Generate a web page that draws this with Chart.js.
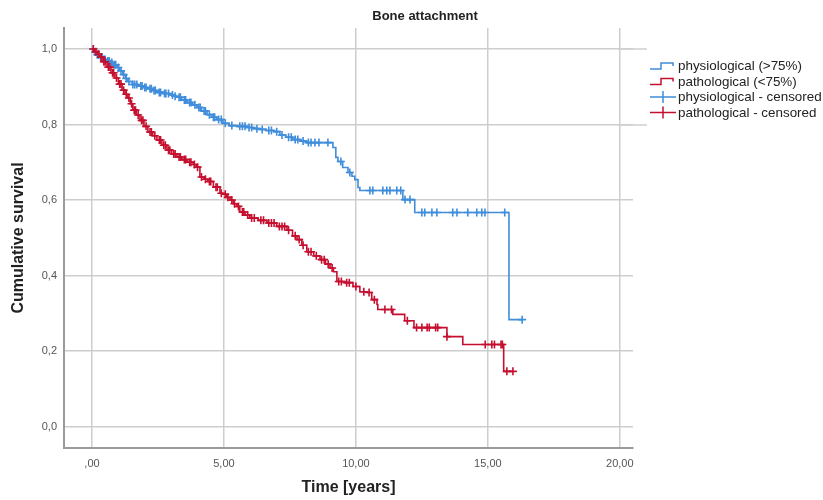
<!DOCTYPE html>
<html><head><meta charset="utf-8">
<script src="https://cdn.jsdelivr.net/npm/chart.js@4/dist/chart.umd.min.js"></script>
<style>html,body{margin:0;padding:0;background:#fff}</style>
</head><body>
<canvas id="c" width="823" height="500"></canvas>
<script>
// ---- data ----
const chartTitle = 'Bone attachment';
const xTitle = 'Time [years]';
const yTitle = 'Cumulative survival';
const seriesNames = ['physiological (>75%)', 'pathological (<75%)', 'physiological - censored', 'pathological - censored'];

const xTickValues = [0, 5, 10, 15, 20];
const xTickLabels = [',00', '5,00', '10,00', '15,00', '20,00'];
const yTickValues = [0, 0.2, 0.4, 0.6, 0.8, 1.0];
const yTickLabels = ['0,0', '0,2', '0,4', '0,6', '0,8', '1,0'];

// physiological (>75%): event times and survival after each step
const blueTimes = [0, 0.1, 0.18, 0.3, 0.42, 0.55, 0.68, 0.8, 0.95, 1.05, 1.17, 1.27, 1.36, 1.52, 1.75, 1.95, 2.12, 2.3, 2.46, 2.7, 2.95, 3.1, 3.22, 3.4, 3.6, 3.8, 3.98, 4.15, 4.36, 4.55, 4.73, 4.96, 5.2, 5.5, 5.87, 6.1, 6.36, 6.6, 6.9, 7.12, 7.35, 7.61, 7.9, 8.14, 9.13, 9.24, 9.32, 9.5, 9.7, 9.85, 9.96, 10.08, 10.15, 11.78, 12.23, 15.8];
const blueSurv = [1.0, 0.992, 0.985, 0.978, 0.972, 0.968, 0.964, 0.958, 0.951, 0.942, 0.932, 0.922, 0.914, 0.906, 0.902, 0.898, 0.895, 0.890, 0.885, 0.882, 0.878, 0.875, 0.872, 0.865, 0.858, 0.852, 0.845, 0.836, 0.826, 0.819, 0.813, 0.803, 0.797, 0.795, 0.792, 0.789, 0.787, 0.784, 0.781, 0.772, 0.766, 0.760, 0.756, 0.752, 0.739, 0.713, 0.702, 0.686, 0.673, 0.663, 0.654, 0.633, 0.625, 0.601, 0.567, 0.283];
const blueCensor = [0.05, 0.12, 0.2, 0.25, 0.33, 0.38, 0.45, 0.5, 0.6, 0.65, 0.75, 0.85, 0.9, 1.0, 1.1, 1.2, 1.3, 1.4, 1.55, 1.62, 1.7, 1.85, 1.9, 2.0, 2.05, 2.2, 2.25, 2.35, 2.4, 2.55, 2.6, 2.75, 2.8, 2.9, 3.05, 3.15, 3.3, 3.35, 3.5, 3.55, 3.7, 3.75, 3.9, 4.05, 4.1, 4.25, 4.3, 4.45, 4.6, 4.65, 4.8, 4.9, 5.05, 5.3, 5.6, 5.7, 5.8, 5.95, 6.05, 6.25, 6.45, 6.7, 6.8, 7.0, 7.2, 7.45, 7.55, 7.7, 7.8, 8.0, 8.2, 8.3, 8.45, 8.6, 8.94, 9.43, 9.77, 10.53, 10.64, 11.02, 11.17, 11.29, 11.55, 11.7, 11.86, 12.05, 12.5, 12.61, 12.88, 13.07, 13.67, 13.83, 14.24, 14.58, 14.77, 14.89, 15.64, 16.3];

// pathological (<75%)
const redTimes = [0, 0.1, 0.2, 0.3, 0.42, 0.57, 0.72, 0.87, 1.0, 1.14, 1.25, 1.36, 1.45, 1.55, 1.68, 1.82, 1.97, 2.12, 2.3, 2.46, 2.65, 2.84, 3.02, 3.22, 3.4, 3.6, 3.83, 3.95, 4.09, 4.25, 4.39, 4.6, 4.85, 4.96, 5.1, 5.23, 5.35, 5.49, 5.6, 5.8, 5.98, 6.3, 6.63, 7.0, 7.39, 7.6, 7.77, 7.95, 8.14, 8.4, 8.64, 8.85, 9.02, 9.15, 9.28, 9.58, 9.89, 10.15, 10.45, 10.6, 10.8, 10.83, 11.4, 11.85, 12.2, 13.45, 14.05, 15.6];
const redSurv = [1.0, 0.993, 0.986, 0.979, 0.966, 0.952, 0.937, 0.923, 0.907, 0.891, 0.88, 0.870, 0.855, 0.838, 0.825, 0.811, 0.795, 0.780, 0.770, 0.759, 0.745, 0.732, 0.722, 0.714, 0.707, 0.700, 0.694, 0.687, 0.661, 0.655, 0.649, 0.634, 0.618, 0.615, 0.607, 0.600, 0.59, 0.583, 0.568, 0.560, 0.552, 0.546, 0.539, 0.53, 0.52, 0.505, 0.495, 0.48, 0.463, 0.452, 0.442, 0.43, 0.42, 0.41, 0.384, 0.381, 0.371, 0.357, 0.355, 0.336, 0.323, 0.31, 0.297, 0.28, 0.262, 0.238, 0.217, 0.146];
const redCensor = [0.05, 0.15, 0.25, 0.35, 0.45, 0.5, 0.62, 0.68, 0.78, 0.82, 0.93, 1.05, 1.1, 1.2, 1.3, 1.4, 1.5, 1.6, 1.65, 1.75, 1.88, 1.93, 2.05, 2.2, 2.25, 2.38, 2.55, 2.6, 2.72, 2.78, 2.9, 2.95, 3.1, 3.15, 3.3, 3.35, 3.5, 3.55, 3.7, 3.75, 3.88, 4.0, 4.15, 4.3, 4.45, 4.5, 4.7, 4.75, 4.9, 5.05, 5.15, 5.3, 5.4, 5.55, 5.7, 5.75, 5.9, 6.05, 6.15, 6.4, 6.5, 6.7, 6.8, 6.9, 7.1, 7.2, 7.3, 7.45, 7.7, 7.85, 8.0, 8.2, 8.3, 8.5, 8.7, 8.8, 8.95, 9.1, 9.35, 9.45, 9.65, 9.75, 10.0, 10.3, 10.5, 10.7, 11.1, 11.35, 11.95, 12.3, 12.5, 12.7, 12.78, 13.02, 13.1, 13.45, 14.9, 15.15, 15.25, 15.5, 15.55, 15.72, 15.95];

// ---- styling ----
const BLUE = '#3f8ddb';
const RED = '#c50f2f';
const FONT = '"Liberation Sans", Arial, sans-serif';

// ---- helpers (lookups on the data above) ----
function survAt(times, surv, t) {
  let s = surv[0];
  for (let i = 0; i < times.length; i++) { if (times[i] <= t) s = surv[i]; }
  return s;
}
function stepLine(times, surv, censor) {
  const pts = times.map((t, i) => ({x: t, y: surv[i]}));
  const end = censor[censor.length - 1];
  pts.push({x: end, y: survAt(times, surv, end)});
  return pts;
}
function censorPoints(times, surv, censor) {
  return censor.map(t => ({x: t, y: survAt(times, surv, t)}));
}

const titlePlugin = {
  id: 'spssTitleLegend',
  afterDraw(chart) {
    const ctx = chart.ctx;
    ctx.save();
    ctx.fillStyle = '#222';
    ctx.font = 'bold 13px ' + FONT;
    ctx.textAlign = 'center';
    ctx.textBaseline = 'middle';
    ctx.fillText(chartTitle, 425, 16);
    // legend frame pieces
    ctx.strokeStyle = '#cfcfcf';
    ctx.lineWidth = 1.5;
    ctx.beginPath();
    ctx.moveTo(618, 49); ctx.lineTo(647, 49);
    ctx.moveTo(618, 125); ctx.lineTo(647, 125);
    ctx.stroke();
    // legend items
    const items = [
      {text: seriesNames[0], color: BLUE, kind: 'step'},
      {text: seriesNames[1], color: RED, kind: 'step'},
      {text: seriesNames[2], color: BLUE, kind: 'cross'},
      {text: seriesNames[3], color: RED, kind: 'cross'}
    ];
    const ys = [66, 81.5, 97, 112.5];
    ctx.font = '13.4px ' + FONT;
    ctx.textAlign = 'left';
    items.forEach((it, i) => {
      const y = ys[i];
      ctx.strokeStyle = it.color;
      ctx.lineWidth = 1.5;
      ctx.beginPath();
      if (it.kind === 'step') {
        ctx.moveTo(650, y + 3); ctx.lineTo(661, y + 3); ctx.lineTo(661, y - 3);
        ctx.lineTo(673, y - 3); ctx.lineTo(673, y);
      } else {
        ctx.moveTo(650, y); ctx.lineTo(676, y);
        ctx.moveTo(663, y - 6); ctx.lineTo(663, y + 6);
      }
      ctx.stroke();
      ctx.fillStyle = '#222';
      ctx.fillText(it.text, 678, y + 0.5);
    });
    ctx.restore();
  }
};

new Chart(document.getElementById('c'), {
  type: 'line',
  data: {
    datasets: [
      {label: seriesNames[1], data: stepLine(redTimes, redSurv, redCensor), borderColor: RED, borderWidth: 1.6,
       stepped: 'before', pointRadius: 0, fill: false, order: 1},
      {label: seriesNames[3], data: censorPoints(redTimes, redSurv, redCensor), showLine: false, pointStyle: 'cross',
       pointRadius: 4, pointBorderWidth: 1.6, borderColor: RED, backgroundColor: RED, order: 0},
      {label: seriesNames[0], data: stepLine(blueTimes, blueSurv, blueCensor), borderColor: BLUE, borderWidth: 1.6,
       stepped: 'before', pointRadius: 0, fill: false, order: 3},
      {label: seriesNames[2], data: censorPoints(blueTimes, blueSurv, blueCensor), showLine: false, pointStyle: 'cross',
       pointRadius: 4, pointBorderWidth: 1.6, borderColor: BLUE, backgroundColor: BLUE, order: 2}
    ]
  },
  options: {
    responsive: false,
    animation: false,
    layout: {padding: {left: 0, right: 190, top: 28, bottom: 0}},
    plugins: {legend: {display: false}, title: {display: false}, tooltip: {enabled: false}},
    scales: {
      x: {
        type: 'linear', min: -1.06, max: 20.5,
        afterBuildTicks: s => { s.ticks = xTickValues.map(v => ({value: v})); },
        afterFit: s => { s.height = 52; },
        ticks: {callback: v => xTickLabels[xTickValues.indexOf(v)], padding: 9, color: '#555',
                font: {family: FONT, size: 11}, maxRotation: 0, autoSkip: false},
        grid: {color: '#cdcdcd', lineWidth: 1.5, drawTicks: false},
        border: {display: true, color: '#9a9a9a', width: 2},
        title: {display: true, text: xTitle, color: '#222', font: {family: FONT, size: 16, weight: 'bold'},
                padding: {top: 0, bottom: 3}}
      },
      y: {
        type: 'linear', min: -0.057, max: 1.0556,
        afterBuildTicks: s => { s.ticks = yTickValues.map(v => ({value: v})); },
        afterFit: s => { s.width = 64; },
        ticks: {callback: v => yTickLabels[yTickValues.indexOf(v)], padding: 7, color: '#555',
                font: {family: FONT, size: 11}, autoSkip: false},
        grid: {color: '#cdcdcd', lineWidth: 1.5, drawTicks: false},
        border: {display: true, color: '#9a9a9a', width: 2},
        title: {display: true, text: yTitle, color: '#222', font: {family: FONT, size: 16, weight: 'bold'},
                padding: {top: 9, bottom: 0}}
      }
    }
  },
  plugins: [titlePlugin]
});
</script>
</body></html>
